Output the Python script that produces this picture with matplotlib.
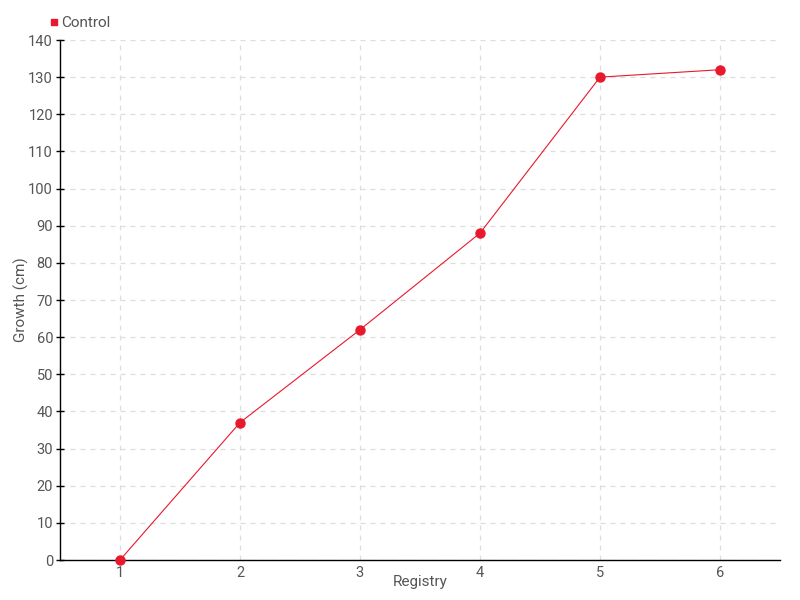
import matplotlib
matplotlib.use("Agg")
import matplotlib.pyplot as plt
from matplotlib.lines import Line2D

registry = [1, 2, 3, 4, 5, 6]
growth = [0, 37, 62, 88, 130, 132]
yticks = list(range(0, 141, 10))

plt.rcParams['font.family'] = ['Roboto', 'DejaVu Sans']
red = '#e8192c'
txt = '#555555'

fig = plt.figure(figsize=(8, 6), dpi=100)
ax = fig.add_axes([60/800, 40/600, 720/800, 520/600])

ax.plot(registry, growth, color=red, lw=0.8, marker='o', ms=6.5,
        markerfacecolor=red, markeredgecolor=red, zorder=3, clip_on=False)

ax.set_xlim(0.5, 6.5)
ax.set_ylim(0, 140)
ax.set_xticks(registry)
ax.set_yticks(yticks)
ax.grid(True, color='#dddddd', ls=(0, (4, 4)), lw=0.9)
ax.set_axisbelow(True)
for s in ['top', 'right']:
    ax.spines[s].set_visible(False)
for s in ['left', 'bottom']:
    ax.spines[s].set_color('black')
    ax.spines[s].set_linewidth(1)
ax.tick_params(axis='y', direction='inout', length=6, width=1, colors='black',
               labelcolor=txt, labelsize=10.5, pad=2)
ax.tick_params(axis='x', length=0, labelcolor=txt, labelsize=10.5, pad=4)
ax.set_xlabel('Registry', color=txt, fontsize=11)
ax.set_ylabel('Growth (cm)', color=txt, fontsize=11)
ax.xaxis.set_label_coords(0.5, -0.028)
ax.yaxis.set_label_coords(-0.043, 0.5)

handle = Line2D([], [], ls='none', marker='s', ms=5, color=red)
fig.legend([handle], ['Control'], loc='upper left', bbox_to_anchor=(40/800, 1 - 10/600),
           frameon=False, fontsize=11, handletextpad=0.0, handlelength=1.0,
           borderaxespad=0, labelcolor=txt)

fig.savefig('out.png')
